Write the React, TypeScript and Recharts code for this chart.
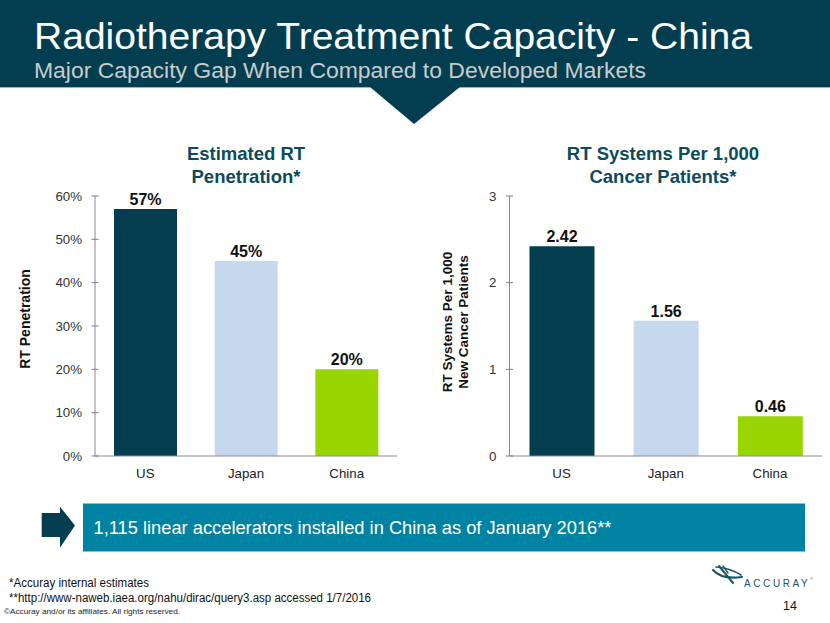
import React from 'react';
import { BarChart, Bar, XAxis, YAxis, Cell, LabelList } from 'recharts';

const categories = ['US', 'Japan', 'China'];
const penetration = [0.57, 0.45, 0.2];
const systemsPer1000 = [2.42, 1.56, 0.46];
const penetrationTicks = [0, 0.1, 0.2, 0.3, 0.4, 0.5, 0.6];
const systemsTicks = [0, 1, 2, 3];
const barColors = ['#033d4f', '#c5d8ee', '#99d500'];

const penetrationData = categories.map((name, i) => ({ name, value: penetration[i] }));
const systemsData = categories.map((name, i) => ({ name, value: systemsPer1000[i] }));

const FONT = '"Liberation Sans", Arial, sans-serif';
const DARK = '#023e50';
const TITLE_COLOR = '#0c4b5b';

const makeYTick = (axisX: number, fmt: (v: number) => string) => (props: any) => {
  const { y, payload } = props;
  return (
    <g>
      <line x1={axisX - 3.5} x2={axisX + 3.5} y1={y} y2={y} stroke="#7f7f7f" strokeWidth={1} />
      <text x={axisX - 13} y={y} dy={4.5} textAnchor="end" fontFamily={FONT} fontSize={13.3} fill="#333">
        {fmt(payload.value)}
      </text>
    </g>
  );
};

const XTick = (props: any) => {
  const { x, payload } = props;
  return (
    <text x={x} y={348} textAnchor="middle" fontFamily={FONT} fontSize={13.3} fill="#222">
      {payload.value}
    </text>
  );
};

const makeValueLabel = (fmt: (v: number) => string) => (props: any) => {
  const { x, y, width, value } = props;
  return (
    <text x={x + width / 2} y={y - 4} textAnchor="middle" fontFamily={FONT} fontWeight="bold" fontSize={16} fill="#111">
      {fmt(value)}
    </text>
  );
};

const pct = (v: number) => `${Math.round(v * 100)}%`;
const num = (v: number) => `${v}`;
const num2 = (v: number) => v.toFixed(2);

export default function App() {
  return (
    <div style={{ position: 'absolute', left: 0, top: 0, width: 830, height: 623, background: '#fff', overflow: 'hidden', fontFamily: FONT }}>
      <svg width={830} height={623} style={{ position: 'absolute', left: 0, top: 0 }}>
        <rect x={0} y={0} width={830} height={87} fill={DARK} />
        <line x1={0} x2={830} y1={87.5} y2={87.5} stroke="#9fb3b9" strokeWidth={1} />
        <polygon points="370,87 460,87 414,124" fill={DARK} />
      </svg>

      <div style={{ position: 'absolute', left: 0, top: 130 }}>
        <BarChart width={420} height={360} data={penetrationData} margin={{ top: 66, right: 23, bottom: 4, left: 0 }}>
          <XAxis dataKey="name" axisLine={{ stroke: '#8a8a8a' }} tickLine={false} tick={<XTick />} height={30} interval={0} />
          <YAxis
            width={95}
            domain={[0, 0.6]}
            ticks={penetrationTicks}
            axisLine={{ stroke: '#8a8a8a' }}
            tickLine={false}
            tick={makeYTick(95, pct)}
            interval={0}
          />
          <Bar dataKey="value" barSize={63} isAnimationActive={false}>
            {penetrationData.map((d, i) => (
              <Cell key={d.name} fill={barColors[i]} />
            ))}
            <LabelList dataKey="value" content={makeValueLabel(pct)} />
          </Bar>
        </BarChart>
      </div>

      <div style={{ position: 'absolute', left: 420, top: 130 }}>
        <BarChart width={410} height={360} data={systemsData} margin={{ top: 66, right: 8, bottom: 4, left: 0 }}>
          <XAxis dataKey="name" axisLine={{ stroke: '#8a8a8a' }} tickLine={false} tick={<XTick />} height={30} interval={0} />
          <YAxis
            width={89.5}
            domain={[0, 3]}
            ticks={systemsTicks}
            axisLine={{ stroke: '#8a8a8a' }}
            tickLine={false}
            tick={makeYTick(89.5, num)}
            interval={0}
          />
          <Bar dataKey="value" barSize={65} isAnimationActive={false}>
            {systemsData.map((d, i) => (
              <Cell key={d.name} fill={barColors[i]} />
            ))}
            <LabelList dataKey="value" content={makeValueLabel(num2)} />
          </Bar>
        </BarChart>
      </div>

      <svg width={830} height={623} style={{ position: 'absolute', left: 0, top: 0, pointerEvents: 'none' }}>
        <text x={34} y={48.5} fontFamily={FONT} fontSize={37} fill="#ffffff" textLength={718} lengthAdjust="spacingAndGlyphs">
          Radiotherapy Treatment Capacity - China
        </text>
        <text x={34} y={77.5} fontFamily={FONT} fontSize={21.5} fill="#c8cccc" textLength={612} lengthAdjust="spacingAndGlyphs">
          Major Capacity Gap When Compared to Developed Markets
        </text>

        <text x={246} y={160} textAnchor="middle" fontFamily={FONT} fontWeight="bold" fontSize={18.5} fill={TITLE_COLOR}>
          Estimated RT
        </text>
        <text x={246} y={183} textAnchor="middle" fontFamily={FONT} fontWeight="bold" fontSize={18.5} fill={TITLE_COLOR}>
          Penetration*
        </text>
        <text x={663} y={160} textAnchor="middle" fontFamily={FONT} fontWeight="bold" fontSize={18.5} fill={TITLE_COLOR}>
          RT Systems Per 1,000
        </text>
        <text x={663} y={183} textAnchor="middle" fontFamily={FONT} fontWeight="bold" fontSize={18.5} fill={TITLE_COLOR}>
          Cancer Patients*
        </text>

        <text transform="translate(29.5,319) rotate(-90)" textAnchor="middle" fontFamily={FONT} fontWeight="bold" fontSize={14} fill="#111">
          RT Penetration
        </text>
        <text transform="translate(452,322) rotate(-90)" textAnchor="middle" fontFamily={FONT} fontWeight="bold" fontSize={13.5} fill="#111">
          RT Systems Per 1,000
        </text>
        <text transform="translate(468,322) rotate(-90)" textAnchor="middle" fontFamily={FONT} fontWeight="bold" fontSize={13.5} fill="#111">
          New Cancer Patients
        </text>

        <polygon points="41.7,513 60,513 60,506.7 75,525.5 60,547.7 60,537 41.7,537" fill={DARK} />
        <rect x={83} y={503.5} width={722} height={48} fill="#0083a3" />
        <text x={93.5} y={534} fontFamily={FONT} fontSize={18.5} fill="#ffffff" textLength={518} lengthAdjust="spacingAndGlyphs">
          1,115 linear accelerators installed in China as of January 2016**
        </text>

        <text x={9} y={587} fontFamily={FONT} fontSize={12} fill="#111" textLength={140} lengthAdjust="spacingAndGlyphs">
          *Accuray internal estimates
        </text>
        <text x={9} y={602} fontFamily={FONT} fontSize={12} fill="#111" textLength={362} lengthAdjust="spacingAndGlyphs">
          **http://www-naweb.iaea.org/nahu/dirac/query3.asp accessed 1/7/2016
        </text>
        <text x={4} y={614} fontFamily={FONT} fontSize={8} fill="#222" textLength={176} lengthAdjust="spacingAndGlyphs">
          ©Accuray and/or its affiliates. All rights reserved.
        </text>

        <g fill="none" stroke="#1a5466" strokeLinecap="round">
          <path d="M713,570 Q722,580 742,577" strokeWidth={2.2} />
          <path d="M716,567 Q730,568 741,575" strokeWidth={1.6} />
          <path d="M719,566 L733,583" strokeWidth={2} />
          <path d="M723,566 L728,573" strokeWidth={1.4} />
        </g>
        <text x={744} y={587} fontFamily={FONT} fontSize={10} fill="#1a5466" letterSpacing={2.6}>
          ACCURAY
        </text>
        <text x={810} y={580} fontFamily={FONT} fontSize={4} fill="#1a5466">
          ®
        </text>
        <text x={783} y={610} fontFamily={FONT} fontSize={12.5} fill="#111">
          14
        </text>
      </svg>
    </div>
  );
}
